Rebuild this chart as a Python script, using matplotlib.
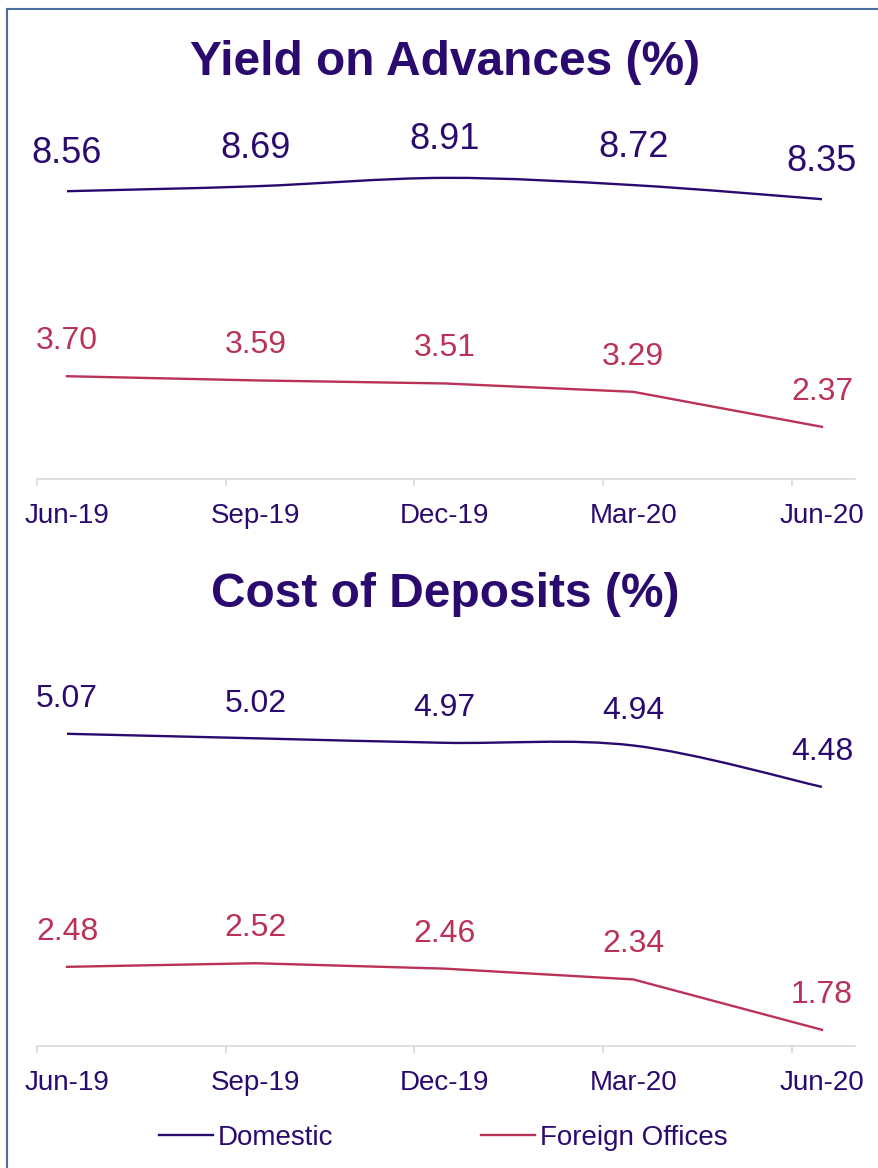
import numpy as np
import matplotlib.pyplot as plt
from matplotlib.path import Path
from matplotlib.patches import PathPatch
from matplotlib.lines import Line2D

plt.rcParams['font.family'] = ['Liberation Sans', 'DejaVu Sans']

quarters = ['Jun-19', 'Sep-19', 'Dec-19', 'Mar-20', 'Jun-20']
yield_domestic = [8.56, 8.69, 8.91, 8.72, 8.35]
yield_foreign = [3.70, 3.59, 3.51, 3.29, 2.37]
cost_domestic = [5.07, 5.02, 4.97, 4.94, 4.48]
cost_foreign = [2.48, 2.52, 2.46, 2.34, 1.78]

INDIGO = '#2B0A70'
CRIMSON = '#BA3257'
GRID = '#D9D9D9'
FRAME = '#4A6E9E'

W, H = 879, 1168
fig = plt.figure(figsize=(W / 100, H / 100), dpi=100)


def px_rect(left, top, right, bottom):
    return [left / W, 1 - bottom / H, (right - left) / W, (bottom - top) / H]


def smooth_path(xs, ys):
    # Excel-style smoothed line: cubic bezier through every point
    pts = np.column_stack([xs, ys]).astype(float)
    ext = np.vstack([pts[0], pts, pts[-1]])
    verts = [pts[0]]
    codes = [Path.MOVETO]
    for i in range(len(pts) - 1):
        p0, p1, p2, p3 = ext[i], ext[i + 1], ext[i + 2], ext[i + 3]
        verts += [p1 + (p2 - p0) / 6, p2 - (p3 - p1) / 6, p2]
        codes += [Path.CURVE4] * 3
    return Path(verts, codes)


def panel(rect, ylim, title, title_y, dom, dom_fs, dom_off, frn, frn_off):
    ax = fig.add_axes(rect)
    x = np.arange(len(quarters))
    ax.set_xlim(-0.159, 4.175)
    ax.set_ylim(*ylim)
    ax.add_patch(PathPatch(smooth_path(x, dom), fc='none', ec=INDIGO, lw=1.7))
    ax.plot(x, frn, color=CRIMSON, lw=1.7)
    for xi, v in zip(x, dom):
        ax.annotate(f'{v:.2f}', (xi, v), xytext=(0, dom_off), textcoords='offset points',
                    ha='center', va='center', fontsize=dom_fs, color=INDIGO, annotation_clip=False)
    for xi, v in zip(x, frn):
        ax.annotate(f'{v:.2f}', (xi, v), xytext=(0, frn_off), textcoords='offset points',
                    ha='center', va='center', fontsize=23, color=CRIMSON, annotation_clip=False)
    for s in ['top', 'right', 'left']:
        ax.spines[s].set_visible(False)
    ax.spines['bottom'].set_color(GRID)
    ax.spines['bottom'].set_linewidth(1.2)
    ax.set_yticks([])
    ax.set_xticks(x)
    ax.set_xticklabels(quarters, fontsize=20, color=INDIGO)
    ax.tick_params(axis='x', which='major', length=0, pad=17)
    ax.set_xticks(x - 0.159, minor=True)
    ax.tick_params(axis='x', which='minor', length=5, width=1.2, color=GRID)
    fig.text(0.506, 1 - title_y / H, title, ha='center', va='baseline',
             fontsize=34.5, fontweight='bold', color=INDIGO)
    return ax


panel(px_rect(37, 479 - 9 * 38.07, 855, 479), (1.0, 10.0), 'Yield on Advances (%)', 75,
      yield_domestic, 26, 27.4, yield_foreign, 25.2)
panel(px_rect(37, 1046 - 4.4 * 89.97, 855, 1046), (1.6, 6.0), 'Cost of Deposits (%)', 607,
      cost_domestic, 23, 24.8, cost_foreign, 25.2)

handles = [Line2D([], [], color=INDIGO, lw=1.7), Line2D([], [], color=CRIMSON, lw=1.7)]
leg = fig.legend(handles, ['Domestic', 'Foreign Offices'], loc='center',
                 bbox_to_anchor=(443 / W, 1 - 1138 / H), ncol=2, frameon=False,
                 fontsize=20, handlelength=1.95, handletextpad=0.18, columnspacing=5.3)
for t in leg.get_texts():
    t.set_color(INDIGO)

# outer frame (clipped at right and bottom in the original)
fig.add_artist(Line2D([7.5 / W, 7.5 / W], [0, 1 - 9 / H], color=FRAME, lw=1.5))
fig.add_artist(Line2D([7.5 / W, 1], [1 - 9 / H, 1 - 9 / H], color=FRAME, lw=1.5))

fig.savefig('out.png', dpi=100)
